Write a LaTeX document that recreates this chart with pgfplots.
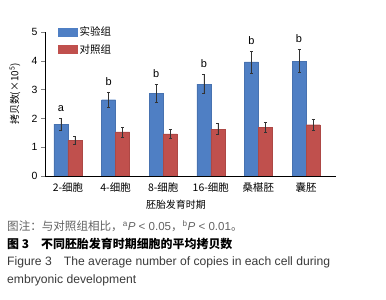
\documentclass[border=0pt]{standalone}
\usepackage{fontspec}
\setmainfont{Liberation Sans}
\newfontfamily\cjk{Noto Sans CJK SC}
\usepackage{pgfplots}
\pgfplotsset{compat=1.18}
\definecolor{cblue}{HTML}{4F7FC4}
\definecolor{cred}{HTML}{C0504D}
\definecolor{captxt}{HTML}{3A3A3A}
\pgfplotstableread{
x y e
0 1.80 0.20
1 2.65 0.27
2 2.87 0.30
3 3.19 0.33
4 3.96 0.38
5 3.99 0.40
}\blue
\pgfplotstableread{
x y e
0 1.23 0.14
1 1.53 0.17
2 1.46 0.15
3 1.63 0.19
4 1.68 0.17
5 1.78 0.20
}\red
\begin{document}
\begin{tikzpicture}[x=1bp,y=1bp]
\useasboundingbox (0,0) rectangle (386,300);
\begin{axis}[
  at={(45bp,124bp)}, anchor=south west,
  scale only axis, width=291bp, height=144bp,
  xmin=-0.483, xmax=5.63, ymin=0, ymax=5,
  axis x line*=bottom, axis y line*=left,
  ybar=0pt, bar width=14bp,
  xtick={0,...,5},
  xticklabels={2-细胞,4-细胞,8-细胞,16-细胞,桑椹胚,囊胚},
  xticklabel style={font=\cjk\fontsize{10.5}{12}\selectfont, yshift=1bp},
  x tick style={draw=none},
  ytick={0,...,5},
  yticklabel style={font=\fontsize{10.5}{12}\selectfont},
  tick align=outside, major tick length=4bp,
  /pgf/number format/assume math mode=true,
  axis line style={line width=0.8pt},
  xlabel={\cjk 胚胎发育时期},
  xlabel style={font=\fontsize{10}{12}\selectfont, at={(axis description cs:0.45,0)}, anchor=north, yshift=-21bp},
  ylabel={\cjk 拷贝数(×10\textsuperscript{5})},
  ylabel style={font=\fontsize{10}{12}\selectfont, at={(axis description cs:-0.103,0.57)}, anchor=center, rotate=0},
  legend style={at={(0.045,1.05)}, anchor=north west, draw=none, fill=none,
    font=\cjk\fontsize{10.5}{12}\selectfont, row sep=3bp, inner sep=0pt,
    nodes={inner sep=2bp}},
  legend cell align=left,
]
\addplot[fill=cblue, draw=cblue!90!black, line width=0.3pt,
  legend image code/.code={\fill[cblue] (0bp,-4bp) rectangle (19bp,4bp);},
  error bars/.cd, y dir=both, y explicit,
  error bar style={black!80, line width=0.6pt},
  error mark options={rotate=90, mark size=1.5bp, black!80, line width=0.6pt}]
  table[x=x, y=y, y error=e] {\blue};
\addlegendentry{实验组}
\addplot[fill=cred, draw=cred!90!black, line width=0.3pt,
  legend image code/.code={\fill[cred] (0bp,-4bp) rectangle (19bp,4bp);},
  error bars/.cd, y dir=both, y explicit,
  error bar style={black!80, line width=0.6pt},
  error mark options={rotate=90, mark size=1.5bp, black!80, line width=0.6pt}]
  table[x=x, y=y, y error=e] {\red};
\addlegendentry{对照组}
\node[anchor=base, yshift=6.8bp, xshift=-7bp, font=\fontsize{11}{12}\selectfont] at (axis cs:0,2.00) {a};
\node[anchor=base, yshift=6.8bp, xshift=-7bp, font=\fontsize{11}{12}\selectfont] at (axis cs:1,2.92) {b};
\node[anchor=base, yshift=6.8bp, xshift=-7bp, font=\fontsize{11}{12}\selectfont] at (axis cs:2,3.17) {b};
\node[anchor=base, yshift=6.8bp, xshift=-7bp, font=\fontsize{11}{12}\selectfont] at (axis cs:3,3.52) {b};
\node[anchor=base, yshift=6.8bp, xshift=-7bp, font=\fontsize{11}{12}\selectfont] at (axis cs:4,4.34) {b};
\node[anchor=base, yshift=6.8bp, xshift=-7bp, font=\fontsize{11}{12}\selectfont] at (axis cs:5,4.39) {b};
\end{axis}
\node[anchor=west, inner sep=0pt, text=captxt!80, font=\fontsize{11.6}{13}\selectfont] at (7,74)
  {{\cjk 图注：与对照组相比，}\textsuperscript{a}\textit{P} < 0.05{\cjk ，}\textsuperscript{b}\textit{P} < 0.01{\cjk 。}};
\node[anchor=west, inner sep=0pt, text=black, font=\fontsize{12}{13}\selectfont] at (7,56)
  {{\cjk\bfseries 图 3\quad 不同胚胎发育时期细胞的平均拷贝数}};
\node[anchor=west, inner sep=0pt, text=captxt, font=\fontsize{12.2}{13}\selectfont] at (7,38)
  {Figure 3\quad The average number of copies in each cell during};
\node[anchor=west, inner sep=0pt, text=captxt, font=\fontsize{12.2}{13}\selectfont] at (7,20)
  {embryonic development};
\end{tikzpicture}
\end{document}
